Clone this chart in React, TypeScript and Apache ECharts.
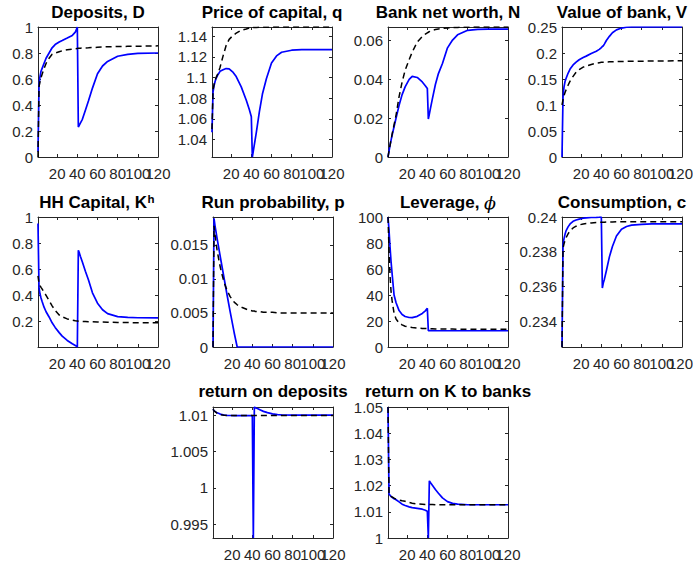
import React, { useEffect, useRef } from 'react';
import * as echarts from 'echarts';

// periods (x values)
const X = [1, 2, 3, 4, 5, 7, 9, 12, 15, 18, 22, 25, 30, 35, 38, 40, 41, 42, 43, 45, 48, 51, 55, 60, 65, 70, 80, 90, 100, 120];
const xTicks = [20, 40, 60, 80, 100, 120];
const xLabelsA = [20, 60, 100];
const xLabelsB = [40, 80, 120];

// Deposits, D
const depositsBlue = [0.04, 0.55, 0.62, 0.66, 0.68, 0.72, 0.76, 0.80, 0.84, 0.865, 0.885, 0.896, 0.915, 0.935, 0.96, 1.0, 0.23, 0.245, 0.26, 0.29, 0.36, 0.43, 0.53, 0.64, 0.70, 0.735, 0.775, 0.79, 0.797, 0.80];
const depositsDash = [0.0, 0.54, 0.58, 0.61, 0.635, 0.68, 0.72, 0.76, 0.79, 0.80, 0.81, 0.817, 0.825, 0.83, 0.833, 0.835, 0.836, 0.836, 0.837, 0.838, 0.839, 0.84, 0.842, 0.844, 0.846, 0.848, 0.85, 0.851, 0.852, 0.855];
const depositsTicks = [0, 0.2, 0.4, 0.6, 0.8, 1];

// Price of capital, q
const qBlue = [1.047, 1.086, 1.092, 1.096, 1.099, 1.103, 1.106, 1.1075, 1.1087, 1.1085, 1.105, 1.101, 1.091, 1.078, 1.069, 1.062, 1.023, 1.029, 1.035, 1.047, 1.067, 1.084, 1.099, 1.114, 1.121, 1.1245, 1.1265, 1.127, 1.127, 1.127];
const qDash = [1.05, 1.088, 1.093, 1.097, 1.1, 1.104, 1.11, 1.121, 1.131, 1.137, 1.141, 1.143, 1.146, 1.147, 1.148, 1.1483, 1.1484, 1.1485, 1.1485, 1.1486, 1.1487, 1.1488, 1.1488, 1.1489, 1.1489, 1.149, 1.149, 1.149, 1.149, 1.149];
const qTicks = [1.04, 1.06, 1.08, 1.1, 1.12, 1.14];

// Bank net worth, N
const nBlue = [0, 0.003, 0.006, 0.0085, 0.011, 0.0155, 0.02, 0.0265, 0.032, 0.036, 0.0398, 0.0414, 0.0408, 0.0385, 0.0366, 0.0352, 0.0195, 0.022, 0.0247, 0.0298, 0.0372, 0.0428, 0.048, 0.056, 0.060, 0.0627, 0.065, 0.0655, 0.0656, 0.0656];
const nDash = [0, 0.003, 0.006, 0.0088, 0.0115, 0.0165, 0.0215, 0.031, 0.0385, 0.0445, 0.050, 0.0538, 0.059, 0.0618, 0.063, 0.0637, 0.064, 0.0643, 0.0646, 0.065, 0.0654, 0.0657, 0.066, 0.0662, 0.0664, 0.0665, 0.0666, 0.0667, 0.0667, 0.0667];
const nTicks = [0, 0.02, 0.04, 0.06];

// Value of bank, V
const vBlue = [0, 0.115, 0.135, 0.145, 0.151, 0.161, 0.169, 0.177, 0.1825, 0.187, 0.1915, 0.194, 0.199, 0.2035, 0.207, 0.2105, 0.2125, 0.214, 0.217, 0.224, 0.232, 0.239, 0.2445, 0.248, 0.2495, 0.25, 0.25, 0.25, 0.25, 0.25];
const vDash = [0.10, 0.11, 0.118, 0.124, 0.129, 0.138, 0.146, 0.155, 0.163, 0.168, 0.1728, 0.175, 0.178, 0.1805, 0.1814, 0.182, 0.1822, 0.1824, 0.1826, 0.1828, 0.1831, 0.1833, 0.1835, 0.1837, 0.1839, 0.184, 0.1843, 0.1845, 0.1847, 0.185];
const vTicks = [0, 0.05, 0.1, 0.15, 0.2, 0.25];

// HH Capital, K^h
const kBlue = [0.95, 0.46, 0.41, 0.38, 0.355, 0.31, 0.275, 0.235, 0.19, 0.155, 0.115, 0.088, 0.055, 0.03, 0.017, 0.005, 0.745, 0.725, 0.70, 0.655, 0.585, 0.52, 0.42, 0.34, 0.29, 0.26, 0.238, 0.232, 0.229, 0.228];
const kDash = [0.55, 0.49, 0.475, 0.462, 0.45, 0.425, 0.40, 0.36, 0.32, 0.285, 0.25, 0.236, 0.22, 0.21, 0.206, 0.204, 0.203, 0.202, 0.202, 0.201, 0.2, 0.199, 0.198, 0.197, 0.196, 0.195, 0.193, 0.192, 0.191, 0.19];
const kTicks = [0.2, 0.4, 0.6, 0.8, 1];

// Run probability, p
const pBlue = [0, 0.0189, 0.0178, 0.0169, 0.016, 0.0143, 0.0126, 0.0101, 0.0076, 0.0052, 0.0021, 0, 0, 0, 0, 0, 0, 0, 0, 0, 0, 0, 0, 0, 0, 0, 0, 0, 0, 0];
const pDash = [0, 0.0178, 0.0165, 0.0153, 0.0143, 0.0126, 0.0112, 0.0095, 0.0083, 0.0074, 0.0066, 0.0062, 0.0058, 0.0055, 0.0054, 0.0053, 0.0053, 0.0053, 0.0052, 0.0052, 0.0052, 0.0051, 0.0051, 0.0051, 0.005, 0.005, 0.005, 0.005, 0.005, 0.005];
const pTicks = [0, 0.005, 0.01, 0.015];

// Leverage, phi
const levBlue = [100, 90, 77, 66, 57, 40, 34, 28, 25, 23.5, 22.7, 22.6, 23.6, 25.8, 27.8, 29.8, 12.6, 12.6, 12.6, 12.6, 12.5, 12.5, 12.5, 12.5, 12.5, 12.5, 12.5, 12.5, 12.5, 12.5];
const levDash = [100, 75, 55, 43, 36, 26, 21.5, 18.5, 17, 16, 15.3, 15, 14.6, 14.3, 14.2, 14.1, 14.1, 14.1, 14.0, 14.0, 13.9, 13.9, 13.9, 13.8, 13.8, 13.7, 13.7, 13.6, 13.6, 13.6];
const levTicks = [0, 20, 40, 60, 80, 100];

// Consumption, c
const cBlue = [0.2325, 0.2384, 0.23875, 0.239, 0.2392, 0.23943, 0.2396, 0.23975, 0.23983, 0.23988, 0.23993, 0.23995, 0.23997, 0.23998, 0.23999, 0.24, 0.2359, 0.2362, 0.2364, 0.2369, 0.2377, 0.2383, 0.2389, 0.2393, 0.23945, 0.23953, 0.23958, 0.2396, 0.2396, 0.2396];
const cDash = [0.2325, 0.2382, 0.23845, 0.23865, 0.2388, 0.23903, 0.2392, 0.23937, 0.23947, 0.23954, 0.2396, 0.23963, 0.23966, 0.23968, 0.23969, 0.2397, 0.2397, 0.2397, 0.2397, 0.23971, 0.23971, 0.23971, 0.23972, 0.23972, 0.23972, 0.23972, 0.23973, 0.23973, 0.23973, 0.23973];
const cTicks = [0.234, 0.236, 0.238, 0.24];

// return on deposits
const rdBlue = [1.0108, 1.0106, 1.0105, 1.0104, 1.0103, 1.0102, 1.01008, 1.01, 1.00995, 1.00993, 1.00992, 1.00992, 1.00992, 1.00992, 1.00992, 1.00992, 0.9931, 1.0111, 1.011, 1.0109, 1.0107, 1.0105, 1.01032, 1.01015, 1.01005, 1.01, 1.00998, 1.00997, 1.00997, 1.00997];
const rdDash = [1.0108, 1.0106, 1.01045, 1.01035, 1.01025, 1.0101, 1.01002, 1.00995, 1.00993, 1.00992, 1.00992, 1.00992, 1.00992, 1.00992, 1.00992, 1.00992, 1.00992, 1.00992, 1.00992, 1.00992, 1.00992, 1.00992, 1.00992, 1.00992, 1.00992, 1.00992, 1.00992, 1.00992, 1.00992, 1.00992];
const rdTicks = [0.995, 1, 1.005, 1.01];

// return on K to banks
const rkBlue = [1.05, 1.0168, 1.0163, 1.0158, 1.0155, 1.015, 1.0146, 1.0138, 1.0129, 1.0124, 1.0119, 1.0116, 1.0113, 1.011, 1.0106, 1.0102, 1.0, 1.0218, 1.0212, 1.0201, 1.0185, 1.0171, 1.0153, 1.0139, 1.0132, 1.0129, 1.0127, 1.0127, 1.0127, 1.0127];
const rkDash = [1.05, 1.0165, 1.0162, 1.0159, 1.0157, 1.0152, 1.0148, 1.0145, 1.0142, 1.014, 1.0136, 1.0133, 1.013, 1.0129, 1.0128, 1.0128, 1.0128, 1.0128, 1.0128, 1.0128, 1.0127, 1.0127, 1.0127, 1.0127, 1.0127, 1.0127, 1.0127, 1.0127, 1.0127, 1.0127];
const rkTicks = [1, 1.01, 1.02, 1.03, 1.04, 1.05];

const FONT = "'Liberation Sans', Arial, Helvetica, sans-serif";
const AX = '#262626';
const TITLE_SIZE = 17;

type Panel = {
  title: string;
  left: number;
  top: number;
  h: number;
  ymin: number;
  ymax: number;
  ticks: number[];
  blue: number[];
  dash: number[];
};

const panels: Panel[] = [
  { title: 'Deposits, D', left: 38, top: 27, h: 130, ymin: 0, ymax: 1, ticks: depositsTicks, blue: depositsBlue, dash: depositsDash },
  { title: 'Price of capital, q', left: 212, top: 27, h: 130, ymin: 1.023, ymax: 1.149, ticks: qTicks, blue: qBlue, dash: qDash },
  { title: 'Bank net worth, N', left: 388, top: 27, h: 130, ymin: 0, ymax: 0.0667, ticks: nTicks, blue: nBlue, dash: nDash },
  { title: 'Value of bank, V', left: 562, top: 27, h: 130, ymin: 0, ymax: 0.25, ticks: vTicks, blue: vBlue, dash: vDash },
  { title: '', left: 38, top: 217, h: 130, ymin: 0.005, ymax: 1, ticks: kTicks, blue: kBlue, dash: kDash },
  { title: 'Run probability, p', left: 213, top: 217, h: 130, ymin: 0, ymax: 0.0191, ticks: pTicks, blue: pBlue, dash: pDash },
  { title: '', left: 388, top: 217, h: 130, ymin: 0, ymax: 100, ticks: levTicks, blue: levBlue, dash: levDash },
  { title: 'Consumption, c', left: 562, top: 217, h: 130, ymin: 0.2325, ymax: 0.24, ticks: cTicks, blue: cBlue, dash: cDash },
  { title: 'return on deposits', left: 213, top: 407, h: 131, ymin: 0.9931, ymax: 1.0111, ticks: rdTicks, blue: rdBlue, dash: rdDash },
  { title: 'return on K to banks', left: 388, top: 407, h: 131, ymin: 1, ymax: 1.05, ticks: rkTicks, blue: rkBlue, dash: rkDash },
];

const W = 120;

function titleStyle(text: string, extra: any = {}) {
  return {
    text,
    fill: '#000',
    fontSize: TITLE_SIZE,
    fontWeight: 'bold',
    fontFamily: FONT,
    align: 'center',
    verticalAlign: 'middle',
    textAlign: 'center',
    textVerticalAlign: 'middle',
    ...extra,
  };
}

export default function App() {
  const ref = useRef<HTMLDivElement>(null);
  useEffect(() => {
    const chart = echarts.init(ref.current!, null, { renderer: 'svg' });
    const grid: any[] = [];
    const xAxis: any[] = [];
    const yAxis: any[] = [];
    const series: any[] = [];
    const graphic: any[] = [];

    panels.forEach((p, i) => {
      grid.push({ left: p.left, top: p.top, width: W, height: p.h, containLabel: false, outerBoundsMode: 'none' });
      const axLine = { show: true, onZero: false, lineStyle: { color: AX, width: 1 } };
      const baseX = {
        type: 'value', gridIndex: i, min: 1, max: 120,
        axisLine: axLine,
        axisTick: { show: true, inside: true, length: 3, customValues: xTicks, lineStyle: { color: AX, width: 1 } },
        splitLine: { show: false },
      };
      const labelBase = {
        show: true, color: AX, fontSize: 15, fontFamily: FONT, margin: 9,
        showMaxLabel: true, showMinLabel: true, hideOverlap: false,
      };
      const rightEdge = p.left + W > 650;
      // bottom axis A: line, ticks, labels 20/60/100
      xAxis.push({
        ...baseX, position: 'bottom',
        axisLabel: { ...labelBase, customValues: xLabelsA, formatter: (v: number) => String(v) },
      });
      // bottom axis B: labels 40/80/120 only
      xAxis.push({
        ...baseX, position: 'bottom',
        axisLine: { show: false, onZero: false },
        axisTick: { show: false },
        axisLabel: {
          ...labelBase, customValues: xLabelsB,
          formatter: (v: number) => (rightEdge && v === 120 ? '{r|120}' : String(v)),
          rich: { r: { fontSize: 15, fontFamily: FONT, color: AX, padding: [0, 3, 0, 0] } },
        },
      });
      // top axis: line + ticks
      xAxis.push({ ...baseX, position: 'top', axisLabel: { show: false } });

      const baseY = {
        type: 'value', gridIndex: i, min: p.ymin, max: p.ymax,
        axisLine: axLine,
        axisTick: { show: true, inside: true, length: 3, customValues: p.ticks, lineStyle: { color: AX, width: 1 } },
        splitLine: { show: false },
      };
      yAxis.push({
        ...baseY, position: 'left',
        axisLabel: {
          show: true, customValues: p.ticks, color: AX, fontSize: 15, fontFamily: FONT, margin: 5,
          showMaxLabel: true, showMinLabel: true, hideOverlap: false,
          formatter: (v: number) => String(v),
        },
      });
      yAxis.push({ ...baseY, position: 'right', axisLabel: { show: false } });

      series.push({
        type: 'line', xAxisIndex: 3 * i, yAxisIndex: 2 * i,
        data: X.map((x, j) => [x, p.blue[j]]),
        showSymbol: false, symbol: 'none', silent: true, z: 2,
        lineStyle: { color: '#0000ff', width: 1.7 },
        itemStyle: { color: '#0000ff' },
      });
      series.push({
        type: 'line', xAxisIndex: 3 * i, yAxisIndex: 2 * i,
        data: X.map((x, j) => [x, p.dash[j]]),
        showSymbol: false, symbol: 'none', silent: true, z: 3,
        lineStyle: { color: '#000000', width: 1.5, type: [6, 4] },
        itemStyle: { color: '#000000' },
      });

      const cx = p.left + W / 2;
      const ty = p.top - (p.top > 400 ? 16 : 14.5);
      if (i === 4) {
        graphic.push({ type: 'text', x: 147, y: ty, silent: true, style: titleStyle('HH Capital, K', { align: 'right', textAlign: 'right' }) });
        graphic.push({ type: 'text', x: 147.5, y: ty - 3.5, silent: true, style: titleStyle('h', { fontSize: 11.5, align: 'left', textAlign: 'left' }) });
      } else if (i === 6) {
        graphic.push({
          type: 'text', x: cx, y: ty, silent: true,
          style: titleStyle('{b|Leverage, }{phi|ϕ}', {
            rich: {
              b: { fontSize: TITLE_SIZE, fontWeight: 'bold', fontFamily: FONT, fill: '#000' },
              phi: { fontSize: 17.5, fontWeight: 'normal', fontStyle: 'italic', fontFamily: "'DejaVu Serif', serif", fill: '#000' },
            },
          }),
        });
      } else {
        graphic.push({ type: 'text', x: cx, y: ty, silent: true, style: titleStyle(p.title) });
      }
    });

    chart.setOption({
      animation: false,
      backgroundColor: '#ffffff',
      grid,
      xAxis,
      yAxis,
      series,
      graphic,
    });
    return () => chart.dispose();
  }, []);

  return (
    <div
      ref={ref}
      style={{ position: 'absolute', left: 0, top: 0, width: 693, height: 562, background: '#fff' }}
    />
  );
}
